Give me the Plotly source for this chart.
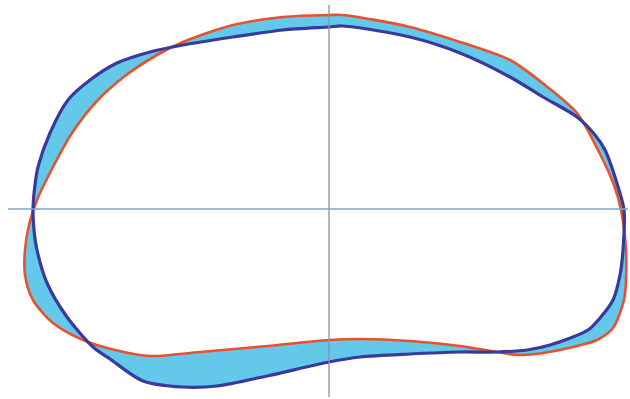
import plotly.graph_objects as go

# Outline (x right, y up, origin at the axis crossing)
red_x = [0, 14, 81, 131, 181, 216, 248, 269, 285, 292, 297, 297, 295, 284, 268, 248, 214, 188, 168, 131, 81, 31, 0,
         -62, -129, -179, -214, -246, -276, -296, -304, -304, -300, -292, -276, -257, -232, -204, -172, -146, -96, -46]
red_y = [194, 194, 182, 167, 149, 124, 96, 59, 24, -1, -41, -71, -91, -119, -131, -137, -144, -146, -143, -137, -132, -130, -131,
         -137, -143, -147, -141, -131, -114, -91, -66, -41, -16, 9, 42, 76, 108, 133, 154, 167, 184, 192]

blue_x = [0, 14, 81, 131, 181, 214, 248, 266, 276, 290, 295, 294, 291, 284, 271, 259, 221, 198, 168, 131, 81, 31, 0,
          -62, -112, -146, -186, -219, -236, -262, -282, -292, -295, -296, -294, -291, -279, -261, -239, -212, -179, -146, -96, -46]
blue_y = [182, 183, 172, 156, 132, 112, 92, 74, 59, 19, -1, -41, -66, -91, -109, -121, -136, -141, -143, -143, -145, -148, -153,
          -167, -177, -178, -172, -150, -138, -108, -74, -41, -21, 0, 24, 42, 76, 109, 129, 146, 157, 164, 172, 179]

FILL = "#63c8ea"
RED = "#e8512c"
BLUE = "#383a9c"
HAXIS = "#7fa3c6"
VAXIS = "#8b90a6"

# one fill path: red loop clockwise, blue loop reversed -> nonzero rule leaves only the band between them
fx = red_x + [red_x[0], None] + blue_x[::-1] + [blue_x[-1]]
fy = red_y + [red_y[0], None] + blue_y[::-1] + [blue_y[-1]]

fig = go.Figure()
fig.add_trace(go.Scatter(x=fx, y=fy, mode="lines", fill="toself", fillcolor=FILL,
                         line=dict(width=0, shape="spline", smoothing=0.8), hoverinfo="skip"))
fig.add_trace(go.Scatter(x=red_x + [red_x[0]], y=red_y + [red_y[0]], mode="lines",
                         line=dict(color=RED, width=2.6, shape="spline", smoothing=0.8)))
fig.add_trace(go.Scatter(x=blue_x + [blue_x[0]], y=blue_y + [blue_y[0]], mode="lines",
                         line=dict(color=BLUE, width=3.2, shape="spline", smoothing=0.8)))

fig.add_shape(type="line", x0=-321, x1=299, y0=0, y1=0, line=dict(color=HAXIS, width=1.3))
fig.add_shape(type="line", x0=0, x1=0, y0=204, y1=-188, line=dict(color=VAXIS, width=1.3))

fig.update_layout(width=630, height=399, margin=dict(l=0, r=0, t=0, b=0),
                  paper_bgcolor="white", plot_bgcolor="white", showlegend=False,
                  xaxis=dict(range=[-329, 301], visible=False, fixedrange=True),
                  yaxis=dict(range=[-190, 209], visible=False, fixedrange=True))
fig.write_html("out.html", config={"displayModeBar": False},
               post_script="document.body.style.margin='0';document.body.style.overflow='hidden';")
